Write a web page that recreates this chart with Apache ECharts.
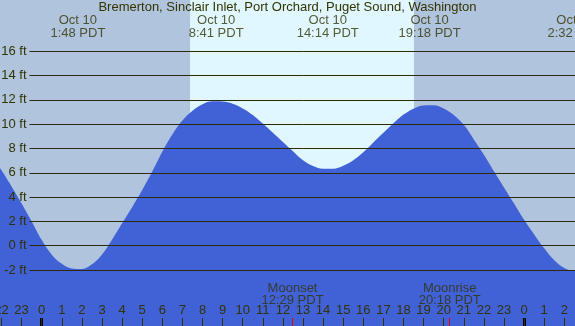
<!DOCTYPE html>
<html>
<head>
<meta charset="utf-8">
<script src="https://cdn.jsdelivr.net/npm/echarts@6/dist/echarts.min.js"></script>
<style>
  html, body { margin: 0; padding: 0; background: #b0c4de; }
  #chart { width: 575px; height: 326px; }
</style>
</head>
<body>
<div id="chart"></div>
<script>
// tide height every half hour (hours from midnight Oct 10), feet
const tideHours = [
  -3, -2.5, -2, -1.5, -1, -0.5, 0, 0.5, 1, 1.5, 2, 2.5, 3, 3.5, 4, 4.5, 5, 5.5, 6, 6.5,
  7, 7.5, 8, 8.5, 9, 9.5, 10, 10.5, 11, 11.5, 12, 12.5, 13, 13.5, 14, 14.5, 15, 15.5, 16, 16.5,
  17, 17.5, 18, 18.5, 19, 19.5, 20, 20.5, 21, 21.5, 22, 22.5, 23, 23.5, 24, 24.5, 25, 25.5, 26, 26.5, 27
]
const tideFeet = [
  8.6, 7.45, 6.2, 4.87, 3.47, 2.0, 0.48, -0.74, -1.49, -1.88, -1.92, -1.53, -0.72, 0.5, 1.84, 3.17, 4.58, 6.1, 7.74, 9.15,
  10.3, 11.1, 11.64, 11.88, 11.86, 11.68, 11.3, 10.76, 10.05, 9.29, 8.53, 7.77, 7.03, 6.56, 6.33, 6.33, 6.57, 7.03, 7.7, 8.5,
  9.29, 10.07, 10.79, 11.28, 11.54, 11.56, 11.3, 10.76, 9.95, 8.75, 7.49, 6.13, 4.8, 3.47, 2.13, 0.93, -0.22, -1.2, -1.83, -2.05, -1.89
]

// highs and lows
const extremeHours = [1.8, 8.68, 14.23, 19.3, 26.53]
const extremeDates = ['Oct 10', 'Oct 10', 'Oct 10', 'Oct 10', 'Oct 11']
const extremeTimes = ['1:48 PDT', '8:41 PDT', '14:14 PDT', '19:18 PDT', '2:32 PDT']

// sunrise / sunset
const daylight = [7.38, 18.52]

// moon
const moonHours = [12.48, 20.3]
const moonNames = ['Moonset', 'Moonrise']
const moonTimes = ['12:29 PDT', '20:18 PDT']

const midnights = [0, 24]
const feetMin = -2, feetMax = 16, feetStep = 2
const hourMin = -2, hourMax = 26

const title = 'Bremerton, Sinclair Inlet, Port Orchard, Puget Sound, Washington'

// layout (pixels)
const W = 575, H = 326
const xMidnight = 41.7, pxHour = 20.1
const yTop = 51.3, yBottom = 270
const pxFt = (yBottom - yTop) / (feetMax - feetMin)
const textColor = '#333300'
const font = 'Liberation Sans'

const yMinA = feetMin - (H - yBottom) / pxFt
const yMaxA = feetMax + yTop / pxFt
const pxToFt = px => yMaxA - px / pxFt

const chart = echarts.init(document.getElementById('chart'))
chart.setOption({
  animation: false,
  backgroundColor: '#b0c4de',
  title: {
    text: title, left: 'center', top: 0, padding: [1, 0, 0, 0],
    textStyle: { fontSize: 13, fontWeight: 'normal', color: textColor, fontFamily: font }
  },
  grid: [
    { left: 0, right: 0, top: 0, bottom: 0, outerBoundsMode: 'none' },
    { left: 29.5, right: 0, top: yTop, bottom: H - yBottom, outerBoundsMode: 'none' },
    {
      left: xMidnight + hourMin * pxHour, right: W - (xMidnight + hourMax * pxHour),
      top: H - 8, bottom: 0, outerBoundsMode: 'none'
    }
  ],
  xAxis: [
    { gridIndex: 0, type: 'value', min: -xMidnight / pxHour, max: (W - xMidnight) / pxHour, show: false },
    { gridIndex: 1, type: 'value', min: 0, max: 1, show: false },
    {
      gridIndex: 2, type: 'value', min: hourMin, max: hourMax, interval: 1, z: 5,
      axisLine: { show: false },
      splitLine: { show: false },
      axisTick: { inside: true, length: 8, lineStyle: { color: textColor } },
      axisLabel: {
        inside: true, margin: 9, showMinLabel: true, showMaxLabel: true, hideOverlap: false,
        color: textColor, fontSize: 13, fontFamily: font,
        formatter: v => String(((v % 24) + 24) % 24)
      }
    }
  ],
  yAxis: [
    { gridIndex: 0, type: 'value', min: yMinA, max: yMaxA, show: false },
    {
      gridIndex: 1, type: 'value', min: feetMin, max: feetMax, interval: feetStep, z: 5,
      axisLine: { show: false },
      axisTick: { show: false },
      splitLine: { lineStyle: { color: '#2b2b0b', width: 1 } },
      axisLabel: { margin: 3, color: textColor, fontSize: 13, fontFamily: font, formatter: v => v + ' ft' }
    },
    { gridIndex: 2, type: 'value', min: 0, max: 1, show: false }
  ],
  series: [
    {
      type: 'line', xAxisIndex: 0, yAxisIndex: 0, data: [], z: 1, silent: true,
      markArea: {
        silent: true,
        itemStyle: { color: '#e0f7ff' },
        data: [[{ xAxis: daylight[0] }, { xAxis: daylight[1] }]]
      }
    },
    {
      type: 'line', xAxisIndex: 0, yAxisIndex: 0, z: 2,
      data: tideHours.map((h, i) => [h, tideFeet[i]]),
      smooth: 0.4, symbol: 'none',
      lineStyle: { width: 0 },
      areaStyle: { color: '#4161d7', opacity: 1, origin: 'start' }
    },
    {
      type: 'scatter', xAxisIndex: 0, yAxisIndex: 0, z: 6, silent: true,
      symbolSize: 1, itemStyle: { color: 'transparent' },
      data: extremeHours.map(h => [h, pxToFt(27)]),
      label: {
        show: true, position: 'inside', color: textColor, fontSize: 13, fontFamily: font, lineHeight: 12.5,
        formatter: p => extremeDates[p.dataIndex] + '\n' + extremeTimes[p.dataIndex]
      }
    },
    {
      type: 'scatter', xAxisIndex: 0, yAxisIndex: 0, z: 6, silent: true,
      symbolSize: 1, itemStyle: { color: 'transparent' },
      data: moonHours.map(h => [h, pxToFt(294.5)]),
      label: {
        show: true, position: 'inside', color: textColor, fontSize: 13, fontFamily: font, lineHeight: 12.5,
        formatter: p => moonNames[p.dataIndex] + '\n' + moonTimes[p.dataIndex]
      }
    },
    {
      type: 'line', xAxisIndex: 2, yAxisIndex: 2, data: [], z: 6, silent: true,
      markLine: {
        silent: true, symbol: 'none', label: { show: false },
        data: midnights.map(h => [
          { coord: [h, 0], lineStyle: { color: '#000', width: 3, type: 'solid' } },
          { coord: [h, 1] }
        ]).concat(moonHours.map(h => [
          { coord: [h, 0], lineStyle: { color: '#ee0000', width: 1, type: 'solid' } },
          { coord: [h, 1] }
        ]))
      }
    }
  ]
})
</script>
</body>
</html>
